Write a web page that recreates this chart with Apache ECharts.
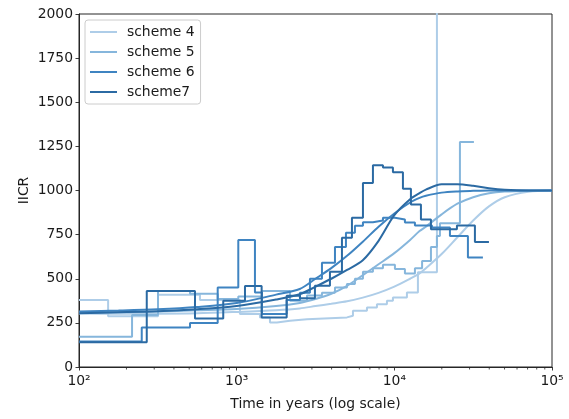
<!DOCTYPE html>
<html>
<head>
<meta charset="utf-8">
<script src="https://cdn.jsdelivr.net/npm/echarts@6/dist/echarts.min.js"></script>
<style>
  html, body { margin: 0; padding: 0; background: #fff; }
  #chart { width: 569px; height: 419px; }
</style>
</head>
<body>
<div id="chart"></div>
<script>
// Piecewise-constant IICR estimates: [time, value], value holds until the next time.
const scheme4Steps = [[100,380],[153,288],[317,410],[585,380],[1049,300],[1405,281],[1626,252],[1801,262],[2178,271],[2792,281],[5006,290],[5464,318],[6704,337],[7757,356],[8975,375],[9797,394],[12018,422],[14112,537],[18627,3000],[25000,3000]];
const scheme5Steps = [[100,172],[217,295],[317,431],[506,415],[758,385],[1024,400],[1447,430],[2178,375],[2792,405],[3475,420],[4202,450],[5006,470],[5625,500],[6323,540],[7316,560],[8469,580],[10087,555],[11672,530],[13508,560],[15000,600],[17069,680],[18627,742],[19463,815],[26063,1275],[31970,1275]];
const scheme6Steps = [[100,145],[250,224],[506,249],[758,450],[1024,719],[1306,422],[1447,300],[2076,380],[2520,420],[2916,500],[3475,590],[4202,680],[4933,760],[5625,800],[6323,820],[7316,830],[8469,845],[10087,836],[11672,819],[13508,802],[17320,790],[22526,742],[29290,621],[36460,621]];
const scheme7Steps = [[100,140],[269,431],[544,275],[822,375],[1129,459],[1440,281],[2076,403],[2520,390],[3136,460],[3905,540],[4653,733],[5384,846],[6323,1043],[7316,1143],[8469,1130],[9797,1103],[11337,1010],[12743,921],[14746,836],[17069,780],[24946,802],[32440,708],[39810,708]];

// Theoretical IICR curves, sampled every tenth of a decade or so.
const curveTimes   = [100, 178, 316, 562, 1000, 1778, 2512, 3162, 3981, 5012, 6310, 7943, 10000, 12589, 14454, 15849, 19953, 25119, 31623, 39811, 50119, 70795, 100000];
const scheme4Curve = [303, 302, 302, 304, 312, 322, 332, 345, 358, 372, 393, 420, 455, 500, 530, 560, 640, 735, 830, 910, 962, 993, 1000];
const scheme5Curve = [308, 311, 315, 321, 328, 345, 363, 385, 415, 460, 520, 582, 645, 720, 770, 795, 865, 925, 962, 984, 994, 999, 1000];
const scheme6Curve = [315, 320, 327, 340, 362, 410, 442, 500, 560, 630, 710, 795, 870, 932, 958, 970, 988, 995, 998, 1000, 1000, 1000, 1000];
const scheme7Curve = [305, 310, 316, 327, 345, 382, 412, 455, 500, 550, 605, 715, 860, 950, 985, 1005, 1035, 1036, 1027, 1013, 1004, 1000, 1000];

const schemeNames = ['scheme 4', 'scheme 5', 'scheme 6', 'scheme7'];
const schemeColors = ['#aecde8', '#86b6dc', '#3f84c1', '#2b6aa3'];
const stepSets = [scheme4Steps, scheme5Steps, scheme6Steps, scheme7Steps];
const curveSets = [scheme4Curve, scheme5Curve, scheme6Curve, scheme7Curve];

const xMajorTicks = [100, 1000, 10000, 100000];
const xMinorTicks = [200,300,400,500,600,700,800,900,2000,3000,4000,5000,6000,7000,8000,9000,20000,30000,40000,50000,60000,70000,80000,90000];
const yTicks = [0, 250, 500, 750, 1000, 1250, 1500, 1750, 2000];

const supers = { '2': '\u00b2', '3': '\u00b3', '4': '\u2074', '5': '\u2075' };
const FONT = 'DejaVu Sans';
const TEXT = '#1a1a1a';
const AX = '#262626';

const series = [];
stepSets.forEach((d, i) => {
  series.push({
    name: schemeNames[i], type: 'line', data: d, step: 'end',
    symbol: 'none', clip: true,
    lineStyle: { color: schemeColors[i], width: 2 },
    itemStyle: { color: schemeColors[i] },
    z: 2 + i * 2
  });
  series.push({
    name: schemeNames[i] + ' curve', type: 'line',
    data: curveTimes.map((t, k) => [t, curveSets[i][k]]),
    smooth: 0.3, symbol: 'none', clip: true,
    lineStyle: { color: schemeColors[i], width: 2 },
    itemStyle: { color: schemeColors[i] },
    z: 3 + i * 2
  });
});

// Minor ticks of the log axis, placed through the axis scale.
series.push({
  type: 'custom', name: 'minor', silent: true, clip: false, z: 20,
  data: xMinorTicks.map(v => [v, 0]),
  renderItem: function (params, api) {
    const p = api.coord([api.value(0), 0]);
    return {
      type: 'line',
      shape: { x1: p[0], y1: p[1], x2: p[0], y2: p[1] + 2.5 },
      style: { stroke: AX, lineWidth: 0.8 }
    };
  }
});

const chart = echarts.init(document.getElementById('chart'), null, { renderer: 'canvas' });
chart.setOption({
  animation: false,
  backgroundColor: '#ffffff',
  textStyle: { fontFamily: FONT },
  grid: { left: 79, top: 14, width: 473, height: 353, show: true, borderColor: AX, borderWidth: 1, backgroundColor: 'transparent' },
  legend: {
    data: schemeNames,
    left: 85, top: 20, orient: 'vertical',
    padding: [5, 6, 5, 5], itemGap: 6,
    itemWidth: 27, itemHeight: 2, icon: 'rect',
    backgroundColor: 'rgba(255,255,255,0.85)', borderColor: '#cccccc', borderWidth: 1, borderRadius: 3,
    textStyle: { fontFamily: FONT, fontSize: 13.9, color: TEXT, padding: [0, 0, 0, 5] }
  },
  xAxis: {
    type: 'log', logBase: 10, min: 100, max: 100000,
    name: 'Time in years (log scale)', nameLocation: 'middle', nameGap: 30, nameMoveOverlap: false,
    nameTextStyle: { fontFamily: FONT, fontSize: 13.9, color: TEXT },
    axisLine: { show: true, lineStyle: { color: AX, width: 1 } },
    axisTick: { show: true, inside: false, length: 3.5, lineStyle: { color: AX, width: 0.9 } },
    axisLabel: {
      fontFamily: FONT, fontSize: 13.9, color: TEXT, margin: 7,
      formatter: function (v) {
        const e = Math.round(Math.log10(v));
        return xMajorTicks.indexOf(Math.round(v)) >= 0 ? '10' + supers[String(e)] : '';
      }
    },
    splitLine: { show: false }
  },
  yAxis: {
    type: 'value', min: 0, max: 2000, interval: 250,
    name: 'IICR', nameLocation: 'middle', nameGap: 48, nameRotate: 90, nameMoveOverlap: false,
    nameTextStyle: { fontFamily: FONT, fontSize: 13.9, color: TEXT },
    axisLine: { show: true, lineStyle: { color: AX, width: 1 } },
    axisTick: { show: true, inside: false, length: 3.5, lineStyle: { color: AX, width: 0.9 } },
    axisLabel: {
      fontFamily: FONT, fontSize: 13.9, color: TEXT, margin: 6,
      formatter: function (v) { return yTicks.indexOf(v) >= 0 ? String(v) : ''; }
    },
    splitLine: { show: false }
  },
  series: series
});
</script>
</body>
</html>
